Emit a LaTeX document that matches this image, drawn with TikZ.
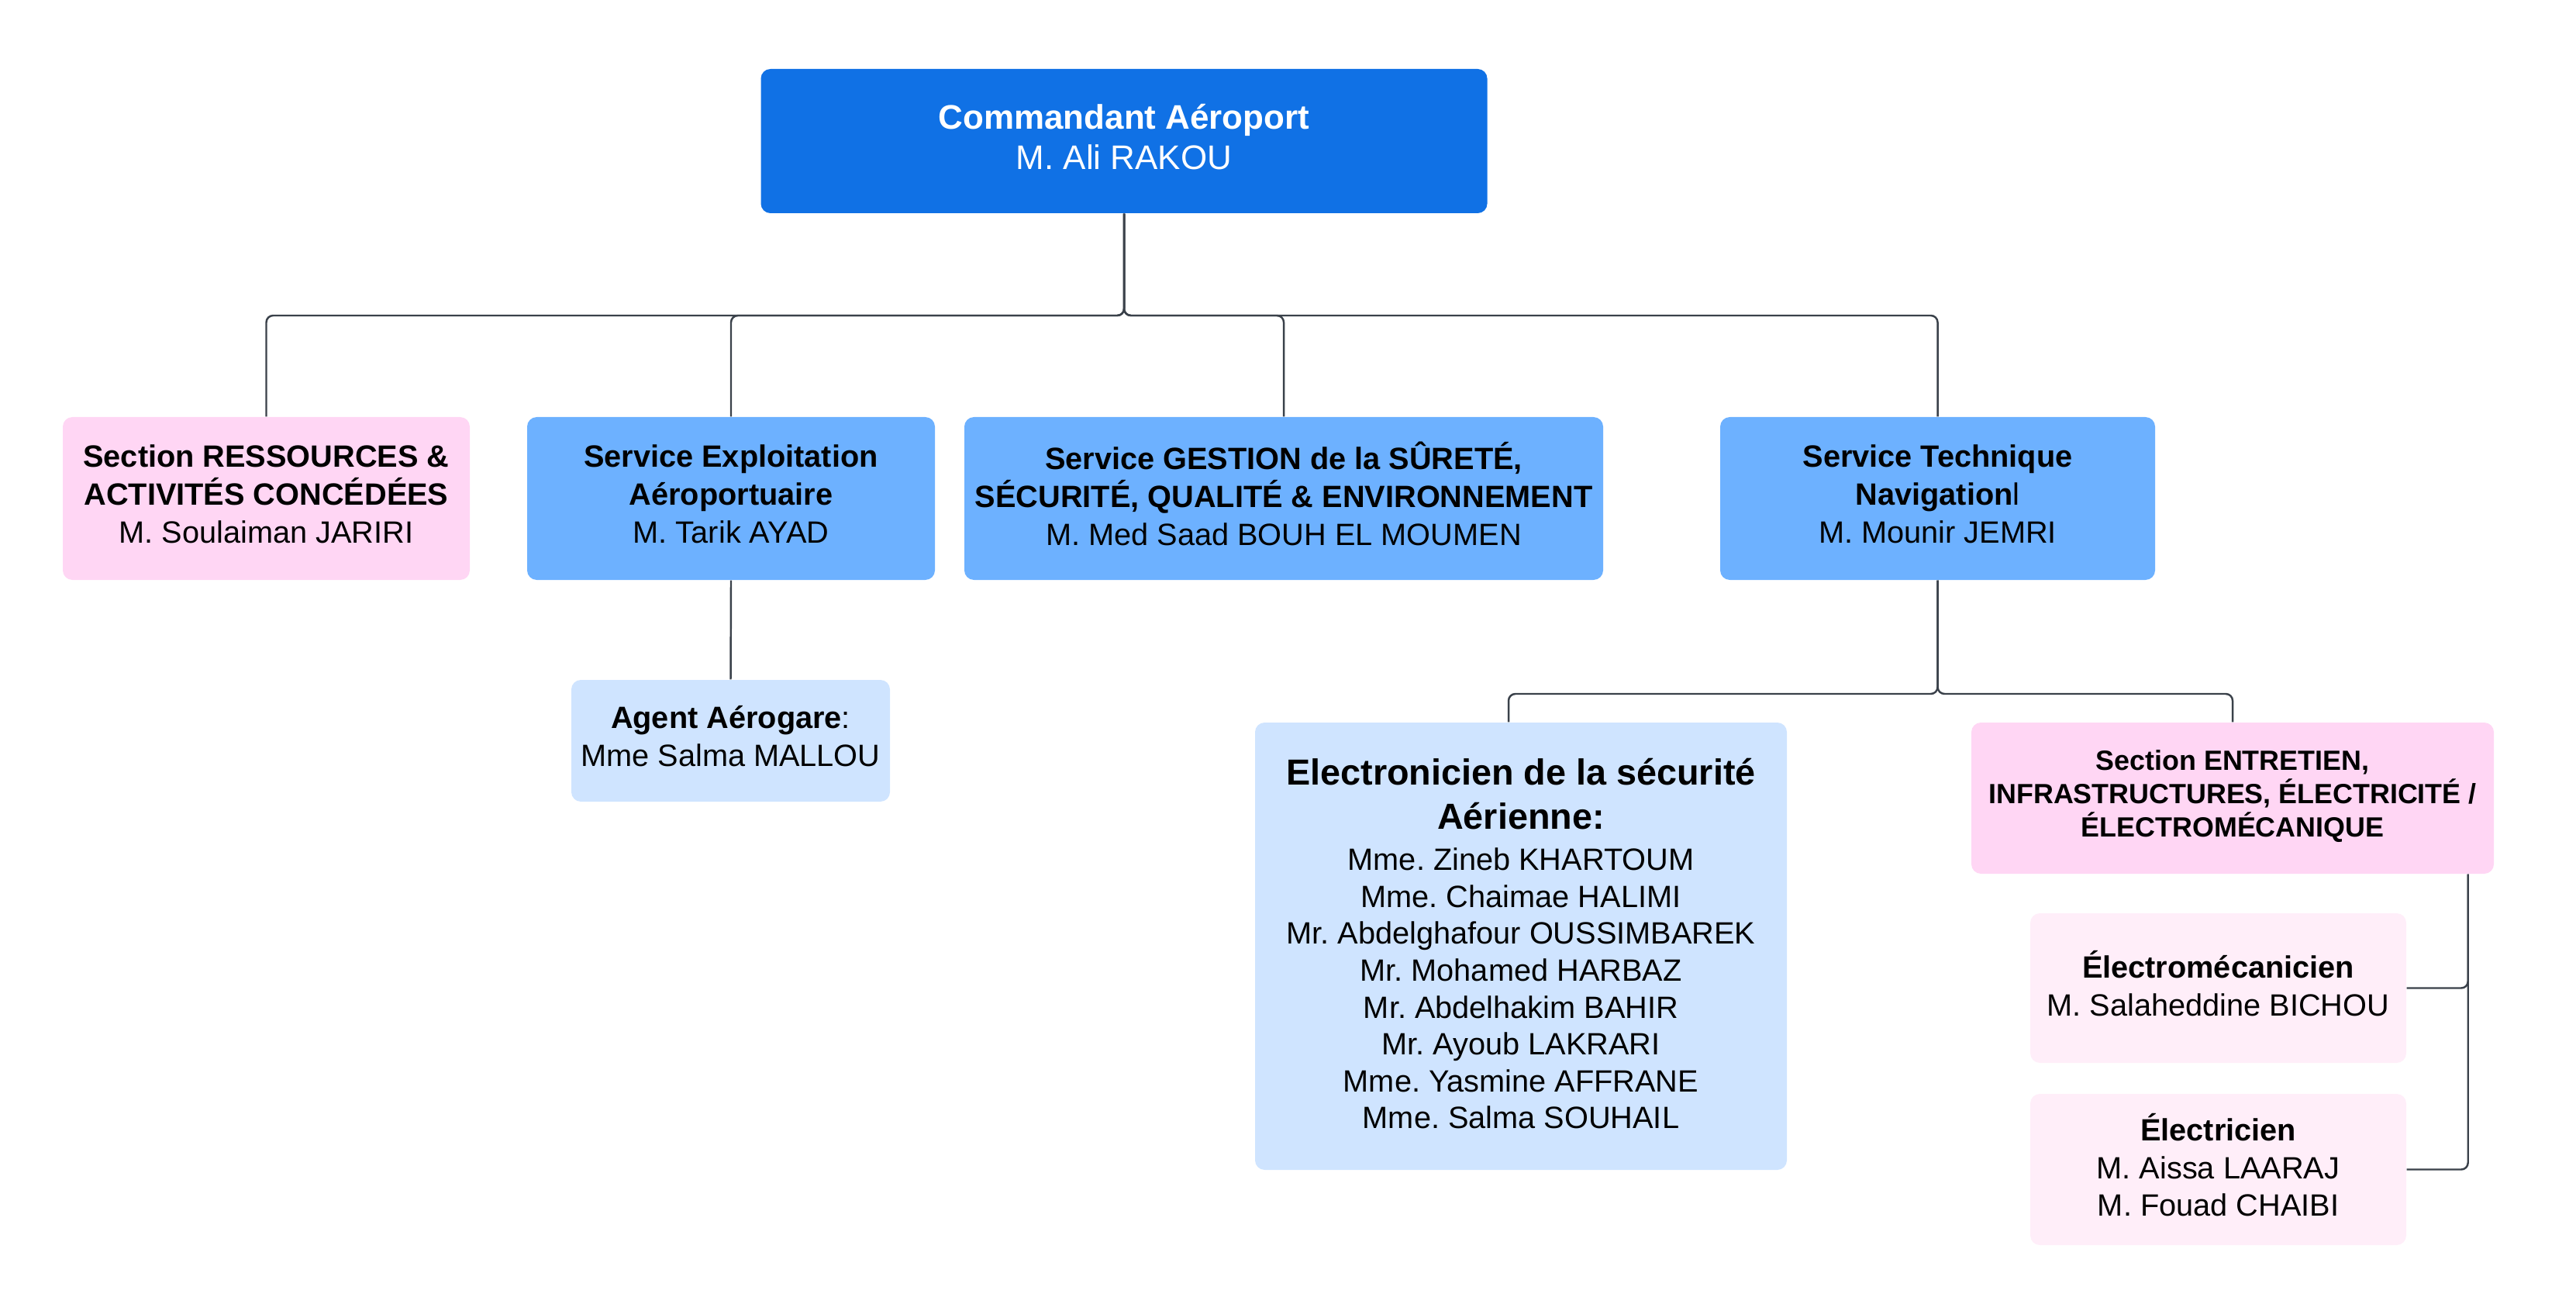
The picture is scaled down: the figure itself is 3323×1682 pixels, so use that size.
\documentclass[tikz,border=0pt]{standalone}
\usepackage{fontspec}
\setmainfont{Liberation Sans}
\frenchspacing
\definecolor{chiefblue}{HTML}{1071E5}
\definecolor{serviceblue}{HTML}{6DB1FF}
\definecolor{staffblue}{HTML}{CFE4FF}
\definecolor{sectionpink}{HTML}{FFD6F4}
\definecolor{crewpink}{HTML}{FFEEF9}
\definecolor{linkgray}{HTML}{3A414A}
\newcommand{\jobtitle}{\fontsize{13.3}{16.2}\selectfont\bfseries}
\begin{document}
\begin{tikzpicture}[x=0.1mm, y=-0.1mm,
    unit/.style={rectangle, rounded corners=3.5pt, inner sep=2pt, align=center,
        text depth=3.4pt, font=\fontsize{11.3}{13.9}\selectfont},
    chief/.style={unit, fill=chiefblue, text=white, font=\fontsize{12.5}{14.8}\selectfont},
    service/.style={unit, fill=serviceblue},
    section/.style={unit, fill=sectionpink},
    staff/.style={unit, fill=staffblue},
    crew/.style={unit, fill=crewpink},
    link/.style={draw=linkgray, line width=0.7pt, rounded corners=2.5pt}]
    \useasboundingbox (0,0) rectangle (3323,1682);

    % direction
    \node[chief, minimum width=93.7mm, minimum height=18.6mm] (cmd) at (1450,182)
        {\textbf{Commandant Aéroport}\\ M. Ali RAKOU};

    % services et sections
    \node[section, minimum width=52.5mm, minimum height=21mm] (res) at (343.5,643)
        {\textbf{Section RESSOURCES \&}\\ \textbf{ACTIVITÉS CONCÉDÉES}\\ M. Soulaiman JARIRI};
    \node[service, minimum width=52.6mm, minimum height=21mm] (expl) at (943,643)
        {\textbf{Service Exploitation}\\ \textbf{Aéroportuaire}\\ M. Tarik AYAD};
    \node[service, minimum width=82.4mm, minimum height=21mm] (surete) at (1656,643)
        {\textbf{Service GESTION de la SÛRETÉ,}\\ \textbf{SÉCURITÉ, QUALITÉ \& ENVIRONNEMENT}\\ M. Med Saad BOUH EL MOUMEN};
    \node[service, minimum width=56.1mm, minimum height=21mm] (tech) at (2499.5,643)
        {\textbf{Service Technique}\\ \textbf{Navigation}l\\ M. Mounir JEMRI};

    % agents
    \node[staff, minimum width=41.1mm, minimum height=15.7mm] (agent) at (942.5,955.5)
        {\textbf{Agent Aérogare}:\\ Mme Salma MALLOU};
    \node[staff, minimum width=68.6mm, minimum height=57.7mm, text depth=1.8pt,
        font=\fontsize{11.3}{13.55}\selectfont] (secu) at (1962,1220.5)
        {{\jobtitle Electronicien de la sécurité}\\[2.6pt] {\jobtitle Aérienne:}\\[1.5pt]
         Mme. Zineb KHARTOUM\\ Mme. Chaimae HALIMI\\ Mr. Abdelghafour OUSSIMBAREK\\
         Mr. Mohamed HARBAZ\\ Mr. Abdelhakim BAHIR\\ Mr. Ayoub LAKRARI\\
         Mme. Yasmine AFFRANE\\ Mme. Salma SOUHAIL};
    \node[section, minimum width=67.4mm, minimum height=19.5mm,
        font=\fontsize{10.2}{12.1}\selectfont\bfseries] (maint) at (2880,1029.5)
        {Section ENTRETIEN,\\ INFRASTRUCTURES, ÉLECTRICITÉ /\\ ÉLECTROMÉCANIQUE};
    \node[crew, minimum width=48.5mm, minimum height=19.3mm] (emec) at (2861.5,1274.5)
        {\textbf{Électromécanicien}\\ M. Salaheddine BICHOU};
    \node[crew, minimum width=48.5mm, minimum height=19.5mm] (elect) at (2861.5,1508.5)
        {\textbf{Électricien}\\ M. Aissa LAARAJ\\ M. Fouad CHAIBI};

    % liaisons
    \coordinate (bus1) at (0,407);
    \coordinate (bus2) at (0,895);
    \foreach \n in {res,expl,surete,tech}
        \draw[link] (cmd.south) -- (cmd.south |- bus1) -| (\n.north);
    \draw[link] (expl.south) -- (agent.north);
    \draw[link] (tech.south) -- (tech.south |- bus2) -| ([xshift=-1.6mm]secu.north);
    \draw[link] (tech.south) -- (tech.south |- bus2) -| (maint.north);
    \coordinate (spine) at ([xshift=-3.4mm]maint.south east);
    \draw[link] (spine) |- (emec.east);
    \draw[link] (spine) |- (elect.east);
\end{tikzpicture}
\end{document}
